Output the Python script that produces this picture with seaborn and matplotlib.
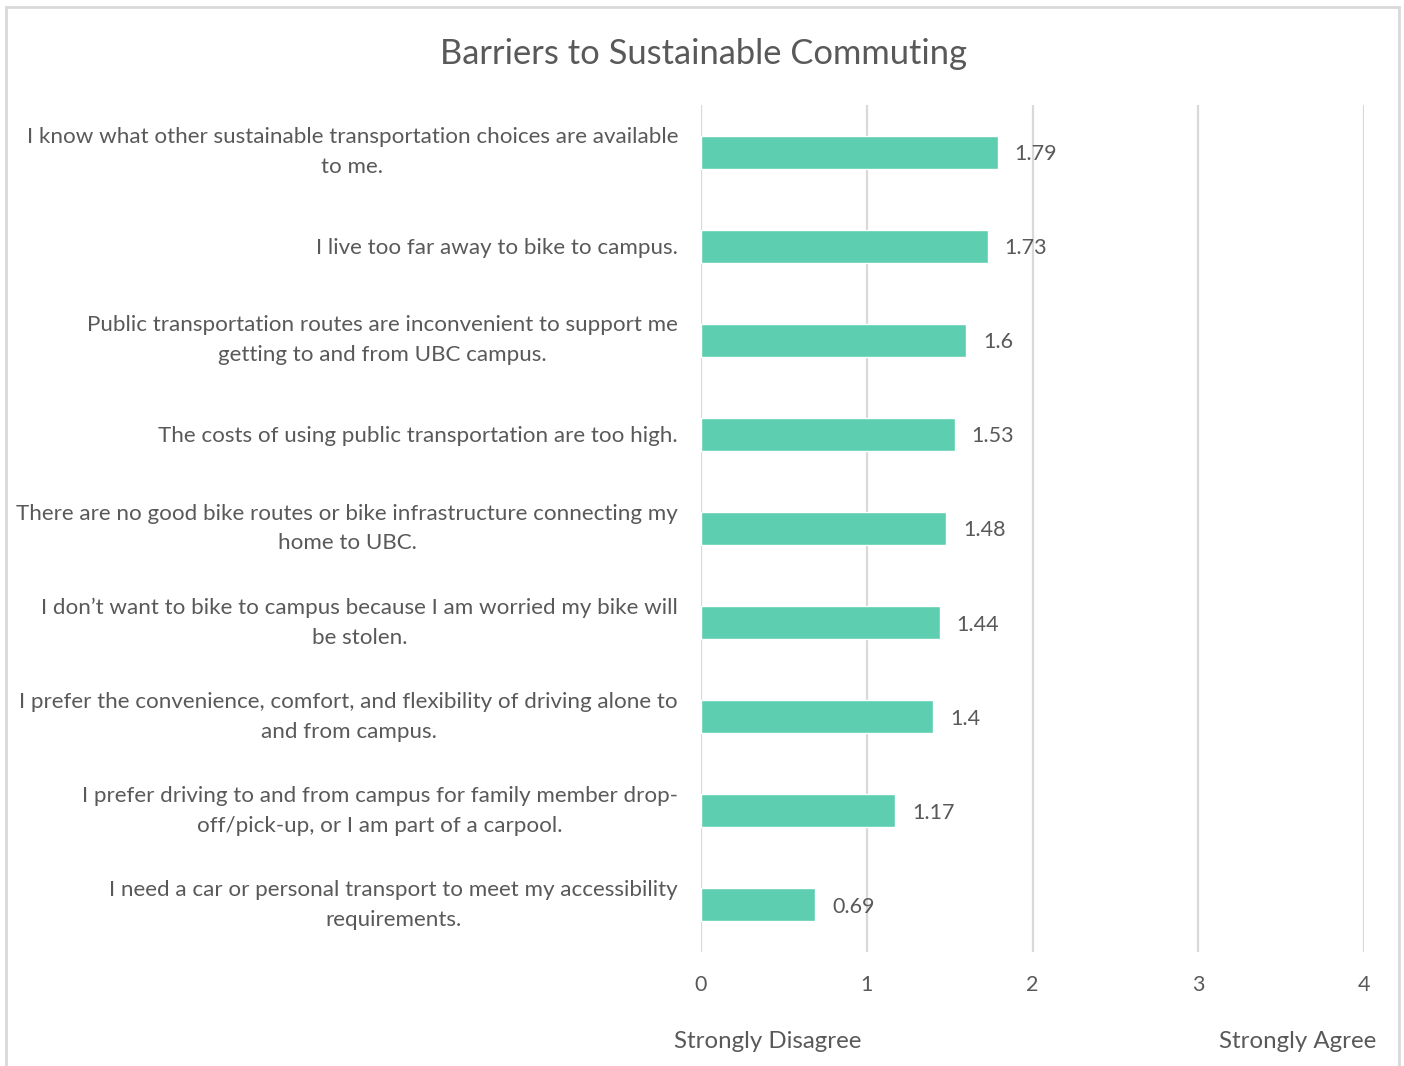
import matplotlib
matplotlib.use("Agg")
import matplotlib.pyplot as plt
from matplotlib.patches import Rectangle
import seaborn as sns
import pandas as pd

# Survey statements (wrapped as displayed) and mean agreement scores
statements = [
    "I know what other sustainable transportation choices are available\nto me.",
    "I live too far away to bike to campus.",
    "Public transportation routes are inconvenient to support me\ngetting to and from UBC campus.",
    "The costs of using public transportation are too high.",
    "There are no good bike routes or bike infrastructure connecting my\nhome to UBC.",
    "I don\u2019t want to bike to campus because I am worried my bike will\nbe stolen.",
    "I prefer the convenience, comfort, and flexibility of driving alone to\nand from campus.",
    "I prefer driving to and from campus for family member drop-\noff/pick-up, or I am part of a carpool.",
    "I need a car or personal transport to meet my accessibility\nrequirements.",
]
scores = [1.79, 1.73, 1.6, 1.53, 1.48, 1.44, 1.4, 1.17, 0.69]
score_labels = ["1.79", "1.73", "1.6", "1.53", "1.48", "1.44", "1.4", "1.17", "0.69"]
x_ticks = [0, 1, 2, 3, 4]
scale_ends = ["Strongly Disagree", "Strongly Agree"]
title = "Barriers to Sustainable Commuting"

BAR_COLOR = "#5DCEAF"
TEXT_COLOR = "#595959"
GRID_COLOR = "#D9D9D9"

sns.set_theme(style="white")
plt.rcParams["font.family"] = ["Lato", "DejaVu Sans"]

df = pd.DataFrame({"statement": statements, "score": scores})

W, H = 1404, 1066
fig = plt.figure(figsize=(W / 100, H / 100), dpi=100)
ax = fig.add_axes([701 / W, 1 - 952 / H, (1364 - 701) / W, (952 - 105) / H])

sns.barplot(data=df, x="score", y="statement", color=BAR_COLOR, width=0.35,
            saturation=1, ax=ax, zorder=3)

ax.set_xlim(0, 4)
ax.set_ylim(len(statements) - 0.5, -0.5)
ax.set_xticks(x_ticks)
ax.set_xticklabels([str(t) for t in x_ticks])
ax.grid(axis="x", color=GRID_COLOR, linewidth=1.6, zorder=0)
ax.grid(axis="y", visible=False)
for s in ax.spines.values():
    s.set_visible(False)
ax.set_xlabel("")
ax.set_ylabel("")
ax.tick_params(axis="x", length=0, pad=16.5, labelsize=15.5, labelcolor=TEXT_COLOR)
ax.tick_params(axis="y", length=0, pad=16.5, labelsize=16.1, labelcolor=TEXT_COLOR)
for lbl in ax.get_yticklabels():
    lbl.set_horizontalalignment("right")
    lbl.set_multialignment("center")
    lbl.set_linespacing(1.62)
    if "\n" in lbl.get_text():
        lbl.set_verticalalignment("center")

for bar, txt in zip(ax.patches, score_labels):
    ax.annotate(txt, (bar.get_width(), bar.get_y() + bar.get_height() / 2),
                xytext=(17, -2), textcoords="offset pixels",
                ha="left", va="center", fontsize=15.5, color=TEXT_COLOR, zorder=4)

fig.text(703 / W, 1 - 54 / H, title, ha="center", va="center",
         fontsize=24.8, color=TEXT_COLOR)
fig.text(768 / W, 1 - 1042 / H, scale_ends[0], ha="center", va="center",
         fontsize=17.3, color=TEXT_COLOR)
fig.text(1298 / W, 1 - 1042 / H, scale_ends[1], ha="center", va="center",
         fontsize=17.3, color=TEXT_COLOR)

# Chart border
fig.patches.append(Rectangle((6 / W, -0.05), (1399 - 6) / W, 1.05 - 7 / H,
                             transform=fig.transFigure, fill=False,
                             edgecolor=GRID_COLOR, linewidth=2))

fig.savefig("out.png", dpi=100)
